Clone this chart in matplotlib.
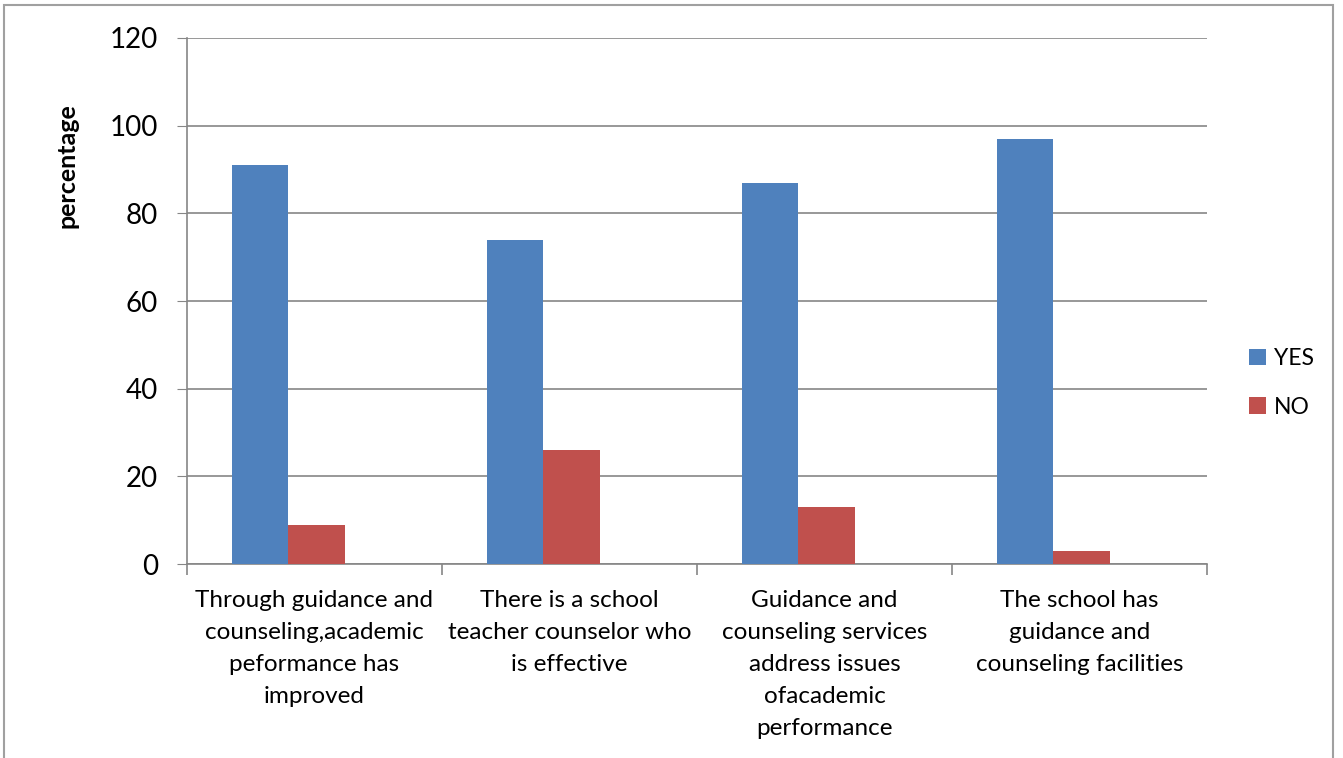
import numpy as np
import matplotlib.pyplot as plt
from matplotlib.patches import Rectangle

plt.rcParams['font.family'] = ['Lato', 'DejaVu Sans']

categories = ['Through guidance and\ncounseling,academic\npeformance has\nimproved',
              'There is a school\nteacher counselor who\nis effective',
              'Guidance and\ncounseling services\naddress issues\nofacademic\nperformance',
              'The school has\nguidance and\ncounseling facilities']
yes_vals = [91, 74, 87, 97]
no_vals = [9, 26, 13, 3]
yticks = [0, 20, 40, 60, 80, 100, 120]

grey = '#868686'
x = np.arange(len(categories))
w = 0.222

fig = plt.figure(figsize=(13.43, 7.58), dpi=100)
ax = fig.add_axes([0.1392, 0.2559, 0.8987 - 0.1392, 0.9499 - 0.2559])

ax.bar(x - 0.214, yes_vals, w, align='center', color='#4F81BD', label='YES', zorder=3)
ax.bar(x + 0.008, no_vals, w, align='center', color='#C0504D', label='NO', zorder=3)

ax.set_xlim(-0.5, 3.5)
ax.set_ylim(0, 120)
ax.set_yticks(yticks)
ax.tick_params(axis='y', labelsize=20, length=7, color=grey, pad=14)
ax.yaxis.grid(True, color=grey, linewidth=1.2, zorder=0)

ax.set_xticks(x)
ax.set_xticklabels(categories, fontsize=17.5, linespacing=1.64)
ax.tick_params(axis='x', which='major', length=0, pad=19)
ax.set_xticks(np.arange(-0.5, 4.0, 1.0), minor=True)
ax.tick_params(axis='x', which='minor', length=8, color=grey, width=1.2)

for s in ['top', 'right']:
    ax.spines[s].set_visible(False)
for s in ['left', 'bottom']:
    ax.spines[s].set_color(grey)
    ax.spines[s].set_linewidth(1.2)

ax.set_ylabel('percentage', fontsize=18, fontweight='bold')
ax.yaxis.set_label_coords(-0.106, 0.757)

fig.legend(loc='center left', bbox_to_anchor=(0.915, 0.495), frameon=False,
           fontsize=16.5, handlelength=0.7, handleheight=0.7, handletextpad=0.35,
           labelspacing=1.2)

fig.patches.append(Rectangle((0.003, -0.05), 0.9896, 1.0434, transform=fig.transFigure,
                             fill=False, edgecolor='#A0A0A0', linewidth=1.5))

fig.savefig('out.png', dpi=100)
